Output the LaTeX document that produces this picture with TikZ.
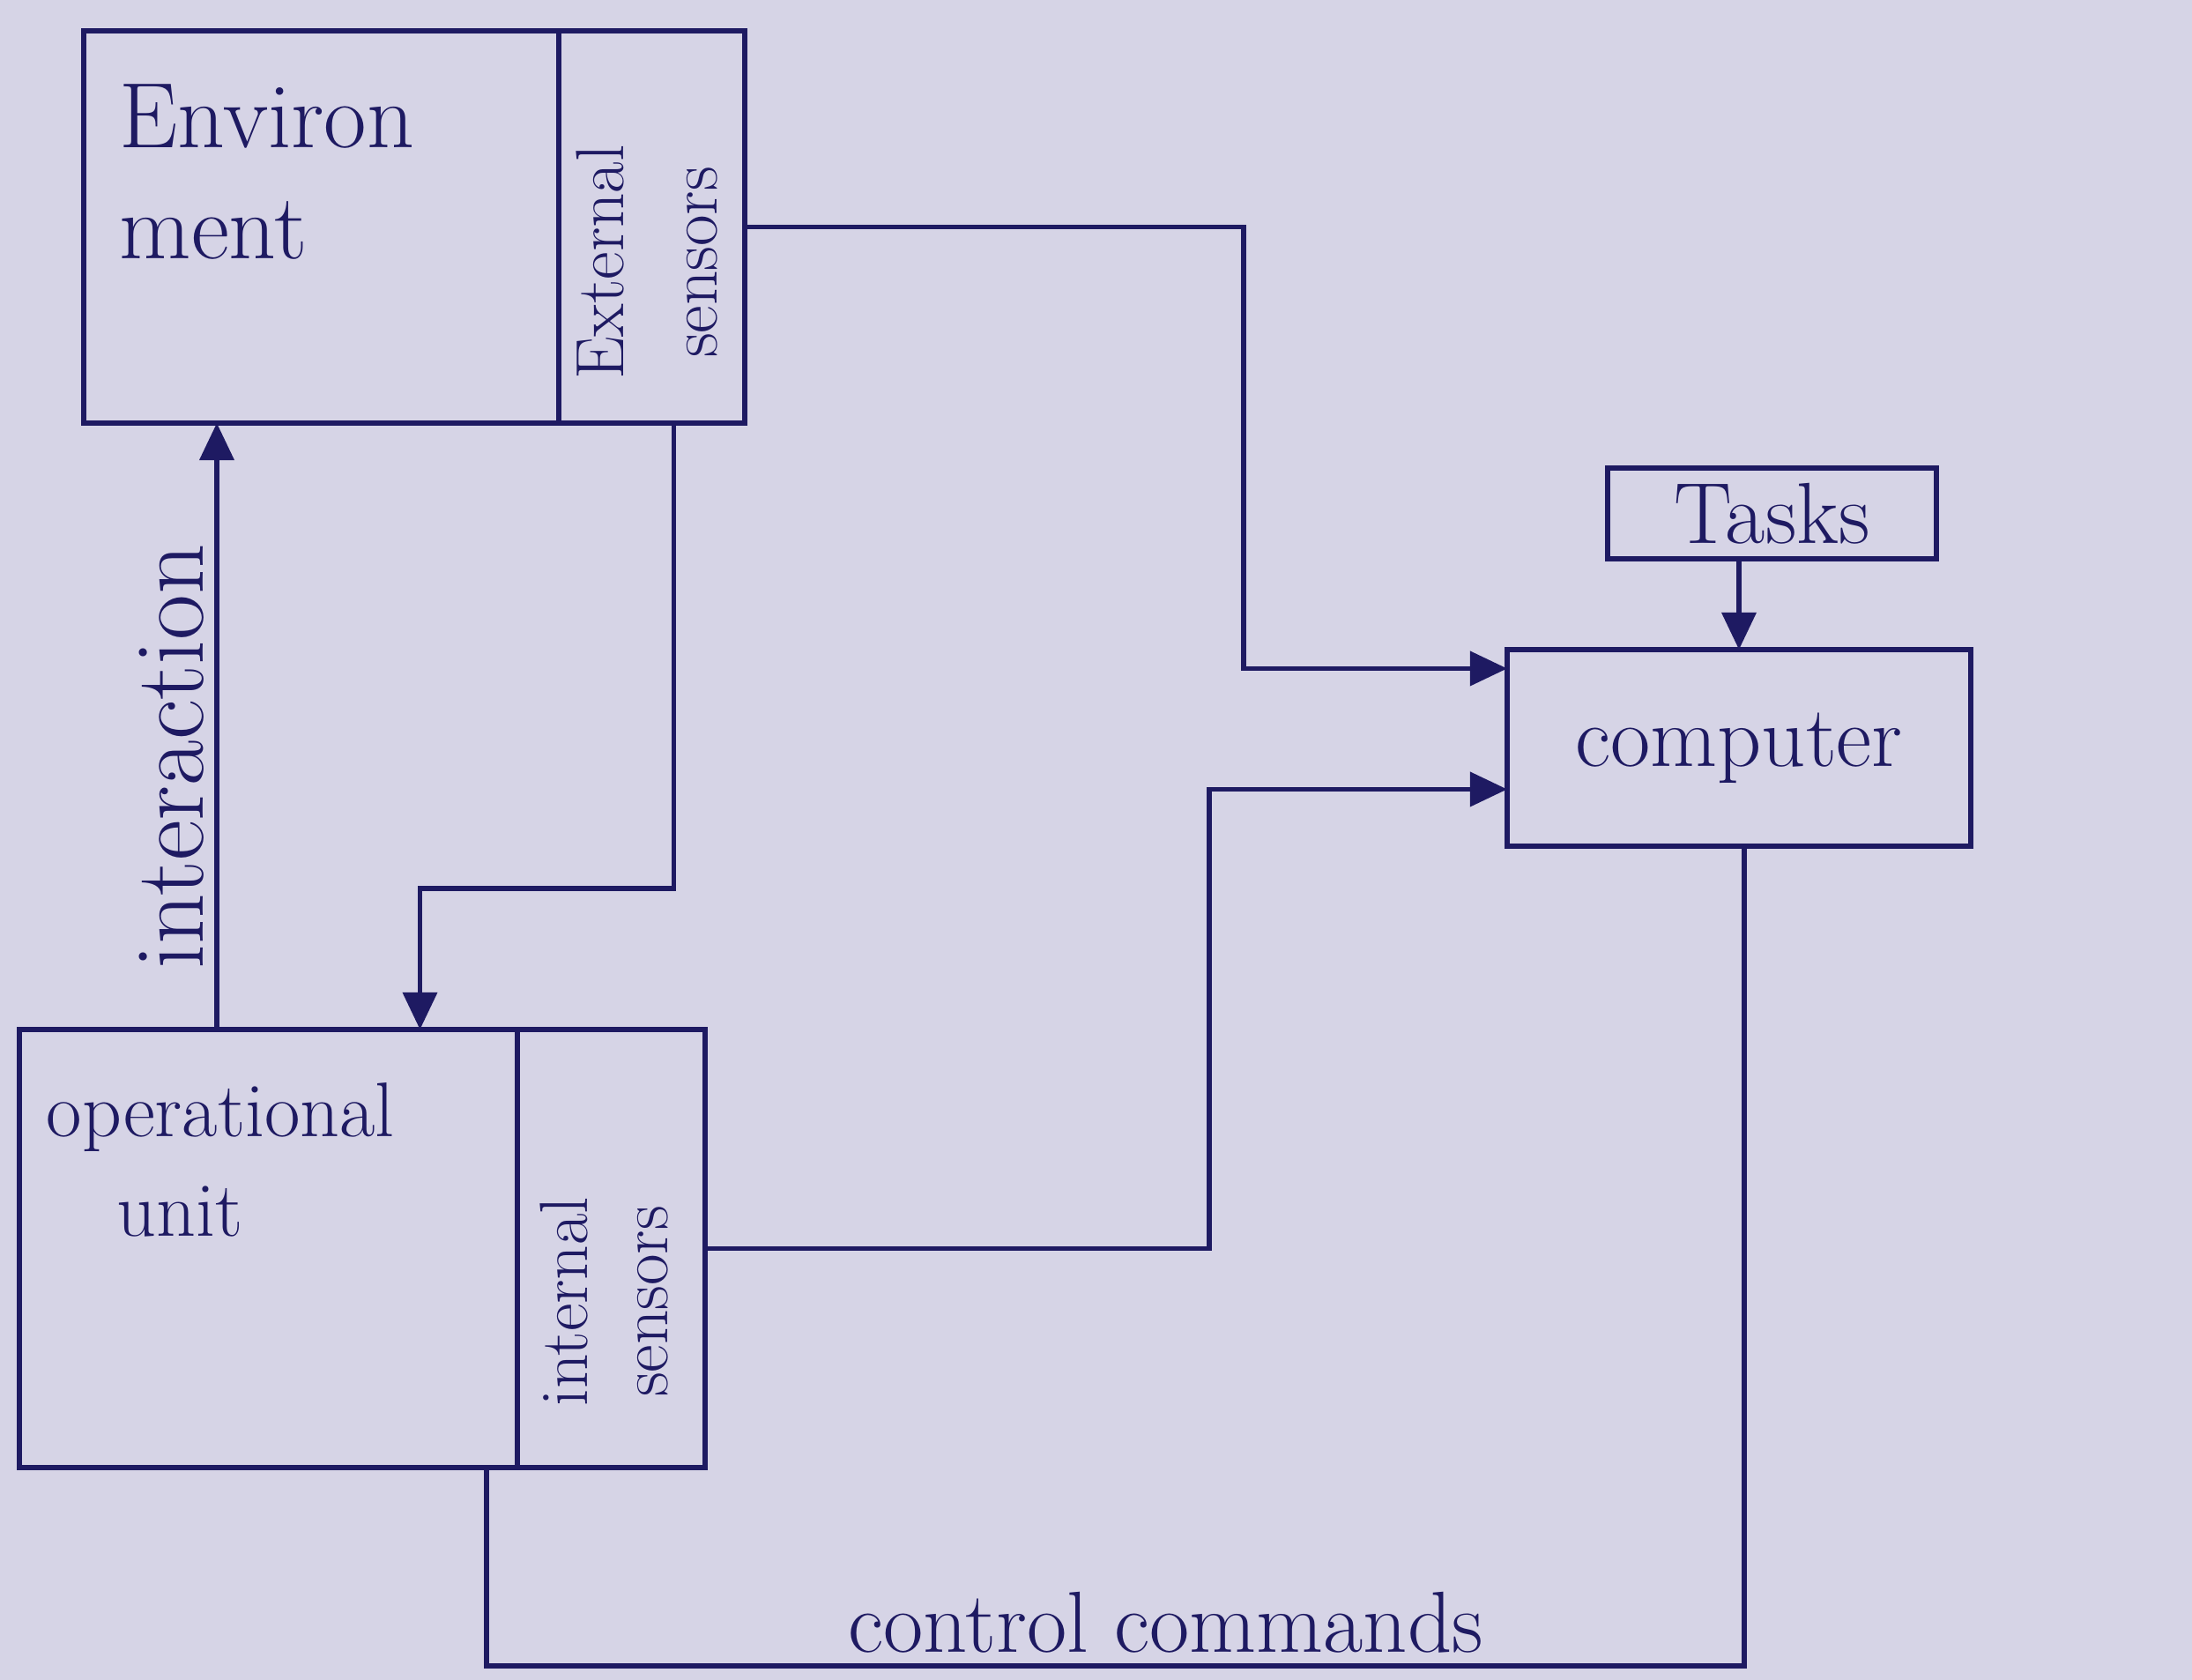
\documentclass[tikz,border=0pt]{standalone}
\usepackage{graphicx}
\usetikzlibrary{positioning,arrows.meta}

\definecolor{ink}{RGB}{30,26,98}
\definecolor{paper}{RGB}{214,212,230}

\newcommand{\sidetext}[3][0pt]{\rotatebox{90}{\begin{tabular}{@{}c@{\hspace{#1}}}#2\\#3\end{tabular}}}

\begin{document}
\begin{tikzpicture}[
      every node/.style={text=ink},
      box/.style={rectangle, draw=ink, line width=1.5pt, inner sep=0pt, outer sep=0pt},
      sensbox/.style={box, font=\fontsize{22}{30}\selectfont},
      lbl/.style={font=\fontsize{28}{34}\selectfont},
      boxtext/.style={inner sep=0pt, align=left, anchor=north west},
      link/.style={draw=ink, line width=1.5pt},
      flow/.style={link, -{Triangle[length=12pt,width=11pt]}},
    ]

    \fill[paper] (0,0) rectangle (24.87,19.06);
    \useasboundingbox (0,0) rectangle (24.87,19.06);

    % environment side
    \node[box, minimum width=5.39cm, minimum height=4.45cm] (env) at (3.645,16.485) {};
    \node[sensbox, minimum width=2.04cm, minimum height=4.45cm, right=0pt of env] (extsens)
      {\sidetext[0.8cm]{External}{sensors}};
    \node[boxtext, font=\fontsize{30}{36}\selectfont] (envtext)
      at ([shift={(0.4,-0.6)}]env.north west) {Environ\\ment};

    % machine side
    \node[box, minimum width=5.65cm, minimum height=4.97cm] (opunit) at (3.045,4.895) {};
    \node[sensbox, font=\fontsize{22}{26}\selectfont, minimum width=2.13cm, minimum height=4.97cm,
          right=0pt of opunit] (intsens)
      {\sidetext[1.2cm]{internal}{sensors}};
    \node[boxtext, font=\fontsize{25}{32}\selectfont] (optext)
      at ([shift={(0.3,-0.6)}]opunit.north west) {operational\\\hspace*{0.8cm}unit};

    % controller
    \node[box, lbl, minimum width=3.73cm, minimum height=1.03cm] (tasks) at (20.105,13.235) {Tasks};
    \node[box, lbl, minimum width=5.26cm, minimum height=2.23cm] (comp) at (19.73,10.575) {computer};

    \draw[flow] (comp.north |- tasks.south) -- (comp.north);

    \draw[flow] (extsens.east) -- ++(5.66,0) |- ([yshift=0.9cm]comp.west);

    \draw[flow] (intsens.east) -- ++(5.72,0) |- ([yshift=-0.47cm]comp.west);

    \draw[flow] ([xshift=0.25cm]extsens.south)
      |- ([xshift=1.72cm, yshift=1.6cm]opunit.north) -- ([xshift=1.72cm]opunit.north);

    \coordinate (iabase) at ([xshift=-0.585cm]opunit.north);
    \draw[flow] (iabase) -- (iabase |- env.south)
      node[pos=0.45, above, sloped, font=\fontsize{32}{36}\selectfont] {interaction};

    \coordinate (cmdin) at ([xshift=2.475cm]opunit.south);
    \draw[link] ([xshift=0.06cm]comp.south) -- ++(0,-9.3) -| (cmdin)
      node[pos=0.23, above, lbl] {control commands};

  \end{tikzpicture}
\end{document}
